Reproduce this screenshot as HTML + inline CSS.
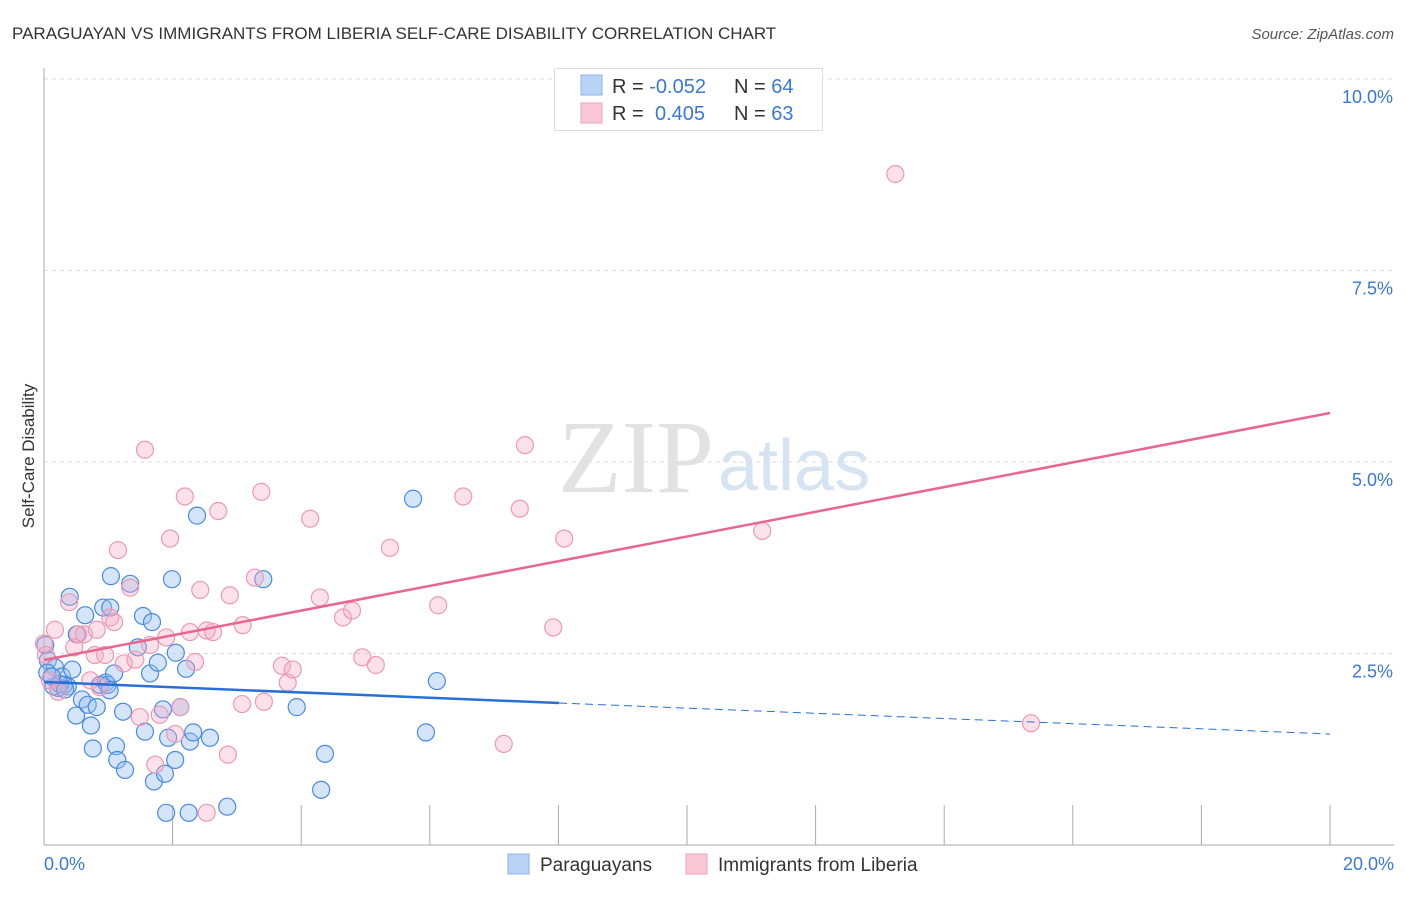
<!DOCTYPE html>
<html><head><meta charset="utf-8"><style>
body{margin:0;background:#fff;font-family:"Liberation Sans",sans-serif}
</style></head><body>
<svg id="c" width="1406" height="892" xmlns="http://www.w3.org/2000/svg" font-family="Liberation Sans, sans-serif">
<text x="12" y="39" font-size="17" fill="#333">PARAGUAYAN VS IMMIGRANTS FROM LIBERIA SELF-CARE DISABILITY CORRELATION CHART</text>
<text x="1394" y="39" font-size="15" fill="#555" font-style="italic" text-anchor="end">Source: ZipAtlas.com</text>
<text x="714" y="492" font-size="104" fill="#e2e2e2" text-anchor="end" font-family="Liberation Serif, serif">ZIP</text>
<text x="718" y="490" font-size="72" fill="#d6e3f3">atlas</text>
<g id="grid"></g>
<line x1="44" y1="68" x2="44" y2="845" stroke="#aaa"/>
<line x1="44" y1="845" x2="1394" y2="845" stroke="#aaa"/>
<text transform="translate(34,456) rotate(-90)" font-size="17" fill="#333" text-anchor="middle">Self-Care Disability</text>
<text x="44" y="870" font-size="18" fill="#3a78d4">0.0%</text>
<text x="1394" y="870" font-size="18" fill="#3a78d4" text-anchor="end">20.0%</text>
<g id="pts"></g>
<g id="lines"></g>
<g>
<rect x="554.5" y="68.5" width="268" height="62" fill="#fff" stroke="#ddd"/>
<rect x="581" y="75" width="21" height="20" fill="#b8d3f5" stroke="#8ab4ea"/>
<rect x="581" y="103" width="21" height="20" fill="#f8c8d6" stroke="#eea5bb"/>
<text x="612" y="93" font-size="20" fill="#333">R = <tspan fill="#3a78d4">-0.052</tspan></text>
<text x="734" y="93" font-size="20" fill="#333">N = <tspan fill="#3a78d4">64</tspan></text>
<text x="612" y="120" font-size="20" fill="#333">R = <tspan fill="#3a78d4" x="655">0.405</tspan></text>
<text x="734" y="120" font-size="20" fill="#333">N = <tspan fill="#3a78d4">63</tspan></text>
</g>
<g>
<rect x="508" y="854" width="21" height="20" fill="#b8d3f5" stroke="#8ab4ea"/>
<text x="540" y="871" font-size="19" fill="#333">Paraguayans</text>
<rect x="686" y="854" width="21" height="20" fill="#f8c8d6" stroke="#eea5bb"/>
<text x="718" y="871" font-size="19" fill="#333">Immigrants from Liberia</text>
</g>
</svg>
<script>
const yTicks=[2.5,5.0,7.5,10.0];
const xTicks=[2,4,6,8,10,12,14,16,18,20];
const blueX=[0.02,0.06,0.17,0.22,0.28,0.37,0.31,0.4,0.44,0.5,0.51,0.59,0.64,0.68,0.73,0.76,0.82,0.87,0.92,0.96,0.99,1.04,1.09,1.12,1.14,1.23,1.26,1.34,1.54,1.46,1.57,1.65,1.68,1.71,1.77,1.85,1.88,1.9,1.93,1.99,2.04,2.05,2.12,2.21,2.25,2.27,2.32,2.38,2.58,2.85,3.41,3.93,4.31,4.37,5.74,5.94,6.11,0.15,0.25,1.03,0.05,0.12,0.33,1.02];
const blueY=[2.61,2.41,2.32,2.05,2.2,2.07,2.09,3.24,2.29,1.69,2.75,1.9,3.0,1.83,1.56,1.26,1.8,2.09,3.1,2.12,2.09,3.51,2.24,1.29,1.11,1.74,0.98,3.41,2.99,2.58,1.48,2.24,2.91,0.83,2.38,1.77,0.93,0.42,1.4,3.47,1.11,2.51,1.8,2.3,0.42,1.35,1.47,4.3,1.4,0.5,3.47,1.8,0.72,1.19,4.52,1.47,2.14,2.07,2.1,3.1,2.25,2.2,2.03,2.02];
const pinkX=[0.0,0.03,0.09,0.17,0.22,0.39,0.47,0.53,0.62,0.72,0.79,0.82,0.87,0.95,1.03,1.09,1.15,1.24,1.34,1.42,1.49,1.57,1.65,1.73,1.80,1.90,1.96,2.04,2.12,2.19,2.27,2.35,2.43,2.53,2.63,2.71,2.86,2.89,3.08,3.09,3.28,3.38,3.42,3.7,3.79,3.87,4.14,4.29,4.65,4.79,4.95,5.16,5.38,6.13,6.52,7.15,7.4,7.48,7.92,8.09,11.17,13.24,15.35,2.53];
const pinkY=[2.63,2.48,2.15,2.81,2.0,3.17,2.58,2.75,2.75,2.15,2.48,2.81,2.06,2.48,2.97,2.91,3.85,2.37,3.36,2.42,1.67,5.16,2.61,1.05,1.7,2.71,4.0,1.45,1.8,4.55,2.78,2.39,3.33,2.8,2.78,4.36,1.18,3.26,1.84,2.87,3.49,4.61,1.87,2.34,2.12,2.29,4.26,3.23,2.97,3.06,2.45,2.35,3.88,3.13,4.55,1.32,4.39,5.22,2.84,4.0,4.1,8.76,1.59,0.42];
const X=v=>44+v/20*1286, Y=v=>845-v/2.5*191.5;
const NS='http://www.w3.org/2000/svg';
function mk(t,a,p){const e=document.createElementNS(NS,t);for(const k in a)e.setAttribute(k,a[k]);p.appendChild(e);return e;}
const g=document.getElementById('grid');
yTicks.forEach(t=>{
 const l=mk('line',{x1:44,x2:1394,y1:Y(t),y2:Y(t),stroke:'#ddd','stroke-dasharray':'4,4'},g);
 
 
 const tx=mk('text',{x:1393,y:Y(t)+24,'font-size':18,fill:'#3a78d4','text-anchor':'end'},g);
 tx.textContent=t.toFixed(1)+'%';
 
 
});
xTicks.forEach(t=>{
 const l=mk('line',{x1:X(t),x2:X(t),y1:805,y2:845,stroke:'#aaa'},g);
 
 
});
const p=document.getElementById('pts');
blueX.forEach((v,i)=>{const c=mk('circle',{cx:X(v),cy:Y(blueY[i]),r:8.5,fill:'rgba(150,190,240,0.4)',stroke:'#4a8ae0','stroke-width':1.2},p);
 
 });
pinkX.forEach((v,i)=>{const c=mk('circle',{cx:X(v),cy:Y(pinkY[i]),r:8.5,fill:'rgba(245,170,195,0.35)',stroke:'#ec9ab4','stroke-width':1.2},p);
 
 });
const L=document.getElementById('lines');
let a=mk('line',{x1:X(0),y1:682,x2:X(8.01),y2:703,stroke:'#2a6fd6','stroke-width':2.5},L);


a=mk('line',{x1:X(8.01),y1:703,x2:X(20),y2:734,stroke:'#2a6fd6','stroke-width':1,'stroke-dasharray':'8,5'},L);


a=mk('line',{x1:X(0),y1:660,x2:X(20),y2:413,stroke:'#e8668f','stroke-width':2.5},L);


</script>
</body></html>
